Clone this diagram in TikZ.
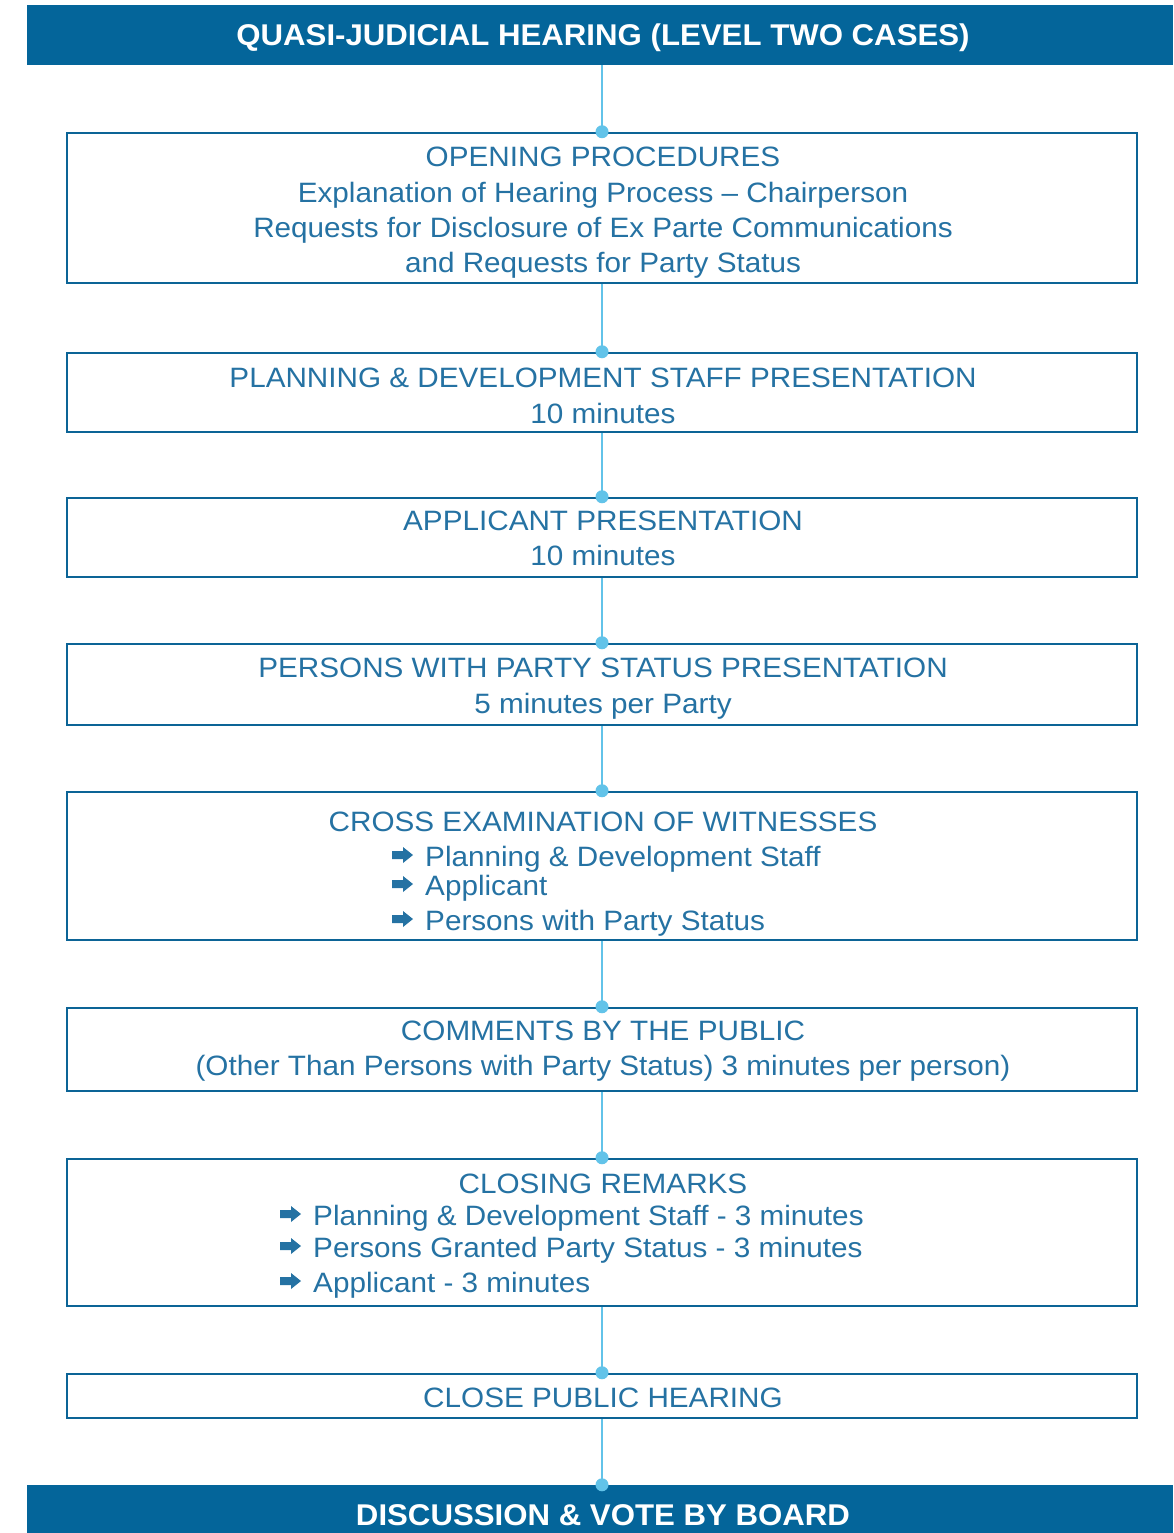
\documentclass[tikz,border=0pt]{standalone}
\usepackage{fontspec}
\setmainfont[FakeStretch=1.06,BoldFeatures={FakeStretch=1.04}]{Liberation Sans}
\definecolor{bannerblue}{RGB}{4,101,154}
\definecolor{boxblue}{RGB}{12,100,150}
\definecolor{txtblue}{RGB}{37,114,163}
\definecolor{linkblue}{RGB}{98,195,233}
\begin{document}
\begin{tikzpicture}[x=1pt,y=-1pt]
\tikzset{
 banner/.style={fill=bannerblue, draw=none, inner sep=0pt, minimum width=1146pt},
 bantxt/.style={text=white, inner sep=0pt, anchor=base, font=\fontsize{30}{36}\selectfont\bfseries},
 box/.style={draw=boxblue, line width=2.5pt, fill=white, minimum width=1070pt, inner sep=0pt},
 txt/.style={text=txtblue, inner sep=0pt, anchor=base, font=\fontsize{28}{34}\selectfont},
 ltxt/.style={txt, anchor=base west},
 conn/.style={draw=linkblue, line width=2.5pt},
 dot/.style={circle, fill=linkblue, inner sep=0pt, minimum size=13pt},
 barrow/.pic={\fill[txtblue] (0,-15) -- (11,-15) -- (11,-19) -- (21,-11) -- (11,-3) -- (11,-7) -- (0,-7) -- cycle;}
}
\useasboundingbox (0,0) rectangle (1173,1533);
\fill[white] (0,0) rectangle (1173,1533);
% banners
\node[banner, minimum height=60pt] (top) at (600,35) {};
\node[bantxt] (toptxt) at (603,46) {QUASI-JUDICIAL HEARING (LEVEL TWO CASES)};
\node[banner, minimum height=48pt] (bot) at (600,1509) {};
\node[bantxt] (bottxt) at (603,1525) {DISCUSSION \& VOTE BY BOARD};
% boxes
\node[box, minimum height=150pt] (b1) at (602,208) {};
\node[box, minimum height=79pt] (b2) at (602,392.5) {};
\node[box, minimum height=79pt] (b3) at (602,537.5) {};
\node[box, minimum height=81pt] (b4) at (602,684.5) {};
\node[box, minimum height=148pt] (b5) at (602,866) {};
\node[box, minimum height=83pt] (b6) at (602,1049.5) {};
\node[box, minimum height=147pt] (b7) at (602,1232.5) {};
\node[box, minimum height=44pt] (b8) at (602,1396) {};
% connectors
\draw[conn] (top.south -| b1.north) -- (b1.north);
\draw[conn] (b1.south) -- (b2.north);
\draw[conn] (b2.south) -- (b3.north);
\draw[conn] (b3.south) -- (b4.north);
\draw[conn] (b4.south) -- (b5.north);
\draw[conn] (b5.south) -- (b6.north);
\draw[conn] (b6.south) -- (b7.north);
\draw[conn] (b7.south) -- (b8.north);
\draw[conn] (b8.south) -- (bot.north -| b8.south);
% dots
\node[dot] (d1) at (b1.north) {};
\node[dot] (d2) at (b2.north) {};
\node[dot] (d3) at (b3.north) {};
\node[dot] (d4) at (b4.north) {};
\node[dot] (d5) at (b5.north) {};
\node[dot] (d6) at (b6.north) {};
\node[dot] (d7) at (b7.north) {};
\node[dot] (d8) at (b8.north) {};
\node[dot] (d9) at (bot.north -| b8.south) {};
% box 1
\node[txt] (t11) at (603,167) {OPENING PROCEDURES};
\node[txt] (t12) at (603,202) {Explanation of Hearing Process – Chairperson};
\node[txt] (t13) at (603,237) {Requests for Disclosure of Ex Parte Communications};
\node[txt] (t14) at (603,272) {and Requests for Party Status};
% box 2
\node[txt] (t21) at (603,387) {PLANNING \& DEVELOPMENT STAFF PRESENTATION};
\node[txt] (t22) at (603,423) {10 minutes};
% box 3
\node[txt] (t31) at (603,530) {APPLICANT PRESENTATION};
\node[txt] (t32) at (603,565) {10 minutes};
% box 4
\node[txt] (t41) at (603,677) {PERSONS WITH PARTY STATUS PRESENTATION};
\node[txt] (t42) at (603,713) {5 minutes per Party};
% box 5
\node[txt] (t51) at (603,831) {CROSS EXAMINATION OF WITNESSES};
\pic at (392,866) {barrow};
\node[ltxt] (t52) at (425,866) {Planning \& Development Staff};
\pic at (392,895) {barrow};
\node[ltxt] (t53) at (425,895) {Applicant};
\pic at (392,930) {barrow};
\node[ltxt] (t54) at (425,930) {Persons with Party Status};
% box 6
\node[txt] (t61) at (603,1040) {COMMENTS BY THE PUBLIC};
\node[txt] (t62) at (603,1075) {(Other Than Persons with Party Status) 3 minutes per person)};
% box 7
\node[txt] (t71) at (603,1193) {CLOSING REMARKS};
\pic at (280,1225) {barrow};
\node[ltxt] (t72) at (313,1225) {Planning \& Development Staff - 3 minutes};
\pic at (280,1257) {barrow};
\node[ltxt] (t73) at (313,1257) {Persons Granted Party Status - 3 minutes};
\pic at (280,1292) {barrow};
\node[ltxt] (t74) at (313,1292) {Applicant - 3 minutes};
% box 8
\node[txt] (t81) at (603,1407) {CLOSE PUBLIC HEARING};
\end{tikzpicture}
\end{document}
